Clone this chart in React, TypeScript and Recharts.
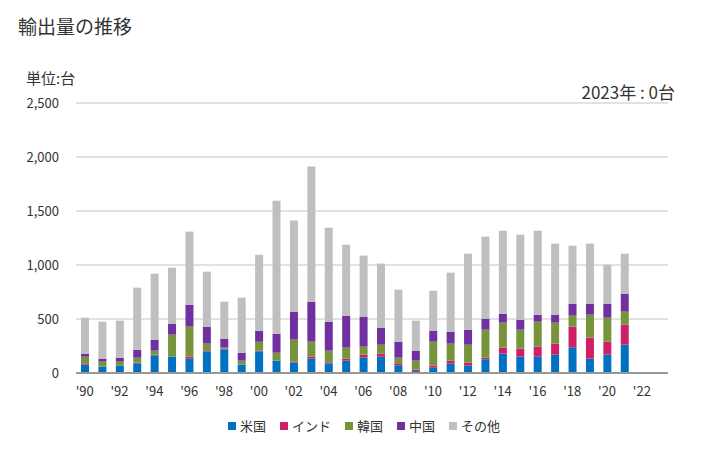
import { BarChart, Bar, XAxis, YAxis, CartesianGrid } from "recharts";

const years = [
  "1990", "1991", "1992", "1993", "1994", "1995", "1996", "1997", "1998", "1999",
  "2000", "2001", "2002", "2003", "2004", "2005", "2006", "2007", "2008", "2009",
  "2010", "2011", "2012", "2013", "2014", "2015", "2016", "2017", "2018", "2019",
  "2020", "2021", "2022", "2023",
];

const usa = [77, 59, 68, 90, 164, 151, 133, 201, 219, 77, 201, 114, 96, 133, 90, 114, 145, 151, 71, 19, 49, 86, 70, 127, 179, 151, 151, 170, 238, 133, 170, 262, 0, 0];
const india = [12, 0, 0, 6, 6, 0, 18, 9, 6, 0, 6, 0, 9, 18, 9, 19, 25, 28, 19, 12, 19, 28, 26, 15, 56, 74, 93, 102, 191, 194, 120, 186, 0, 0];
const korea = [62, 46, 37, 46, 37, 204, 278, 62, 10, 37, 83, 74, 204, 139, 108, 102, 74, 83, 52, 83, 222, 158, 166, 259, 231, 176, 231, 194, 102, 213, 222, 120, 0, 0];
const china = [28, 28, 37, 74, 102, 102, 204, 157, 83, 74, 102, 176, 259, 371, 268, 296, 278, 158, 148, 93, 102, 111, 139, 102, 83, 93, 65, 74, 111, 102, 130, 167, 0, 0];
const others = [333, 342, 343, 574, 611, 518, 676, 509, 343, 510, 704, 1232, 843, 1250, 871, 657, 565, 593, 482, 278, 370, 546, 704, 760, 769, 787, 778, 658, 537, 556, 361, 370, 0, 0];

const series = [
  { key: "usa", name: "米国", color: "#0070c0" },
  { key: "india", name: "インド", color: "#d01f66" },
  { key: "korea", name: "韓国", color: "#77933c" },
  { key: "china", name: "中国", color: "#7030a0" },
  { key: "others", name: "その他", color: "#bfbfbf" },
];

const yTicks = [0, 500, 1000, 1500, 2000, 2500];

const data = years.map((y, i) => ({
  year: y,
  usa: usa[i],
  india: india[i],
  korea: korea[i],
  china: china[i],
  others: others[i],
}));

const font = "'Noto Sans CJK JP', 'Noto Sans', sans-serif";

export default function App() {
  return (
    <div style={{ position: "absolute", left: 0, top: 0, width: 728, height: 450, background: "#fff", fontFamily: font, color: "#333" }}>
      <div style={{ position: "absolute", left: 18, top: 12, fontSize: 19 }}>輸出量の推移</div>
      <div style={{ position: "absolute", left: 26, top: 67, fontSize: 15 }}>単位:台</div>
      <div style={{ position: "absolute", right: 53, top: 79, fontSize: 17 }}>2023年 : 0台</div>
      <BarChart
        width={728}
        height={450}
        data={data}
        margin={{ top: 103, right: 60, left: 16, bottom: 47 }}
        barSize={8}
      >
        <CartesianGrid vertical={false} stroke="#d9d9d9" strokeWidth={1.5} />
        <XAxis
          dataKey="year"
          interval={1}
          tickLine={false}
          axisLine={{ stroke: "#999", strokeWidth: 2 }}
          tick={{ fill: "#333", fontSize: 13, fontFamily: font }}
          tickFormatter={(v) => "'" + String(v).slice(2)}
          height={30}
          tickMargin={8}
        />
        <YAxis
          width={60}
          domain={[0, 2500]}
          ticks={yTicks}
          axisLine={false}
          tickLine={false}
          tick={{ fill: "#333", fontSize: 13, fontFamily: font }}
          tickFormatter={(v) => Number(v).toLocaleString("en-US")}
          tickMargin={11}
        />
        {series.map((s) => (
          <Bar key={s.key} dataKey={s.key} name={s.name} stackId="a" fill={s.color} isAnimationActive={false} />
        ))}
      </BarChart>
      <div style={{ position: "absolute", left: 0, width: 728, top: 416, display: "flex", justifyContent: "center", fontSize: 13 }}>
        <div style={{ display: "flex", gap: 14 }}>
          {series.map((s) => (
            <div key={s.key} style={{ display: "flex", alignItems: "center" }}>
              <span style={{ display: "inline-block", width: 8, height: 8, background: s.color, marginRight: 4 }} />
              <span>{s.name}</span>
            </div>
          ))}
        </div>
      </div>
    </div>
  );
}
